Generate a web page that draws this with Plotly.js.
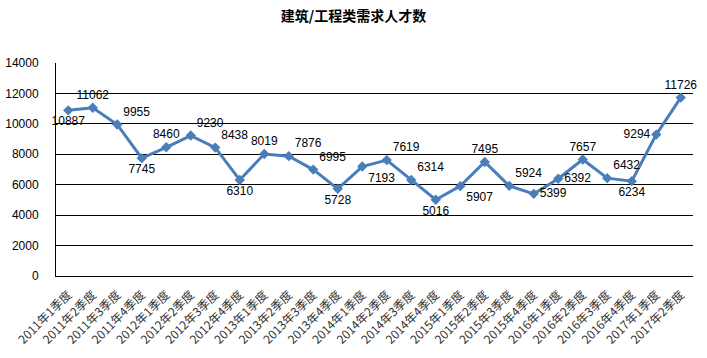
<!DOCTYPE html>
<html><head><meta charset="utf-8">
<script src="https://cdn.plot.ly/plotly-3.0.1.min.js"></script>
<style>html,body{margin:0;padding:0;background:#fff}#c{width:707px;height:358px}</style>
</head><body><div id="c"></div>
<script>
const categories = ["2011年1季度","2011年2季度","2011年3季度","2011年4季度",
 "2012年1季度","2012年2季度","2012年3季度","2012年4季度",
 "2013年1季度","2013年2季度","2013年3季度","2013年4季度",
 "2014年1季度","2014年2季度","2014年3季度","2014年4季度",
 "2015年1季度","2015年2季度","2015年3季度","2015年4季度",
 "2016年1季度","2016年2季度","2016年3季度","2016年4季度",
 "2017年1季度","2017年2季度"];
const values = [10887,11062,9955,7745,8460,9230,8438,6310,8019,7876,6995,5728,
 7193,7619,6314,5016,5907,7495,5924,5399,6392,7657,6432,6234,9294,11726];
const labelPos = ["bottom center","top center","top right","bottom center","top center","top right",
 "top right","bottom center","top center","top right","top right","bottom center",
 "bottom right","top right","top right","bottom center","bottom right","top center",
 "top right","middle right","middle right","top center","top right","bottom center",
 "middle left","top center"];
const yTicks = [0,2000,4000,6000,8000,10000,12000,14000];

Plotly.newPlot('c', [{
  x: categories.map((c,i)=>i), y: values, type:'scatter', mode:'lines+markers+text',
  text: values.map(String), textposition: labelPos,
  textfont:{family:'Liberation Sans, Arial', size:12, color:'#000'},
  line:{color:'#4A7EBB', width:3},
  marker:{symbol:'diamond', size:8, color:'#4A7EBB'},
  cliponaxis:false, hoverinfo:'none'
}], {
  width:707, height:358,
  margin:{l:56, r:14, t:63, b:82},
  paper_bgcolor:'#fff', plot_bgcolor:'#fff',
  showlegend:false,
  title:{text:'<b>建筑/工程类需求人才数</b>', x:0.5, xanchor:'center', y:0.955, yanchor:'middle',
    font:{family:'Noto Sans CJK SC', size:14, color:'#000'}},
  xaxis:{range:[-0.5,25.5], tickmode:'array', tickvals:categories.map((c,i)=>i), ticktext:categories,
    tickangle:-45, tickfont:{family:'Noto Sans CJK SC', size:12, color:'#333'},
    ticks:'outside', ticklen:6, tickcolor:'rgba(0,0,0,0)',
    showgrid:false, showline:true, linecolor:'#000', linewidth:1, zeroline:false, fixedrange:true},
  yaxis:{range:[0,14000], tickmode:'array', tickvals:yTicks, ticktext:yTicks.map(String),
    tickfont:{family:'Liberation Sans, Arial', size:12, color:'#000'},
    ticks:'outside', ticklen:14, tickcolor:'rgba(0,0,0,0)',
    showgrid:true, gridcolor:'#000', gridwidth:1, showline:true, linecolor:'#000', linewidth:1,
    zeroline:false, fixedrange:true}
}, {staticPlot:true});
</script></body></html>
